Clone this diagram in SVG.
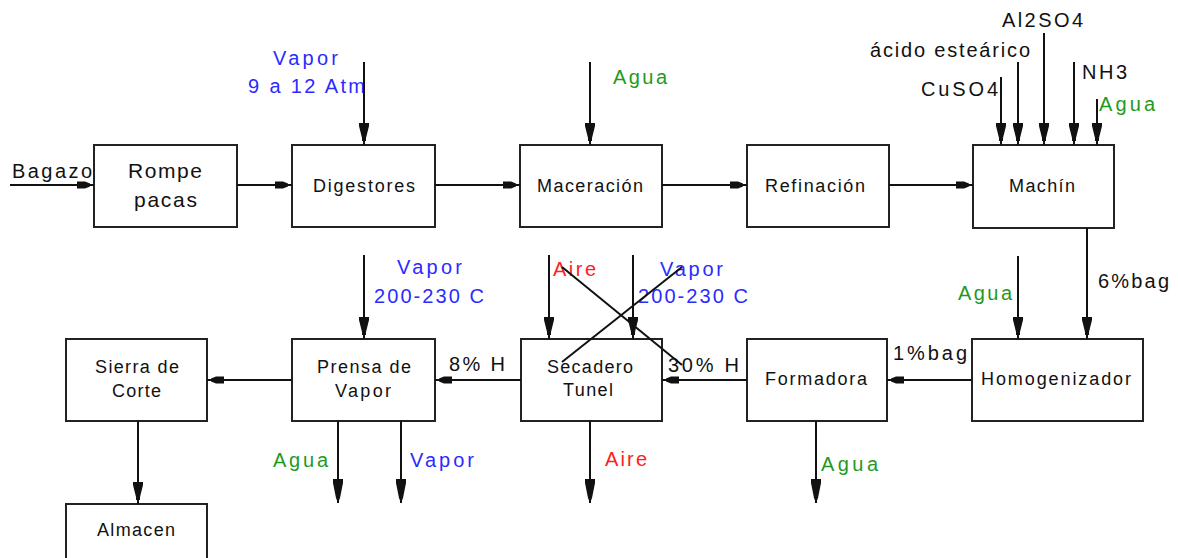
<svg xmlns="http://www.w3.org/2000/svg" width="1178" height="558" viewBox="0 0 1178 558">
<style>
.box{fill:#fff;stroke:#222;stroke-width:2}
.ln{stroke:#111;stroke-width:2;fill:none}
.h{marker-end:url(#mh)}
.v{marker-end:url(#mv)}
.vo{marker-end:url(#mvo)}
text{font-family:"Liberation Sans",Arial,sans-serif}
.n{font-size:18px;fill:#111}
.nb{font-size:21px;fill:#111}
.l{font-size:20px;fill:#111}
.bl{fill:#2b2bff}
.gr{fill:#1f9a1f}
.rd{fill:#ff2020}
</style>
<defs>
<marker id="mh" markerUnits="userSpaceOnUse" markerWidth="30" markerHeight="20" refX="0" refY="0" orient="auto" overflow="visible">
<path d="M-17,-3.5 L-9,-3.5 L-4,-1.5 L-4,1.5 L-9,3.5 L-17,3.5 Z" fill="#111"/>
</marker>
<marker id="mv" markerUnits="userSpaceOnUse" markerWidth="30" markerHeight="20" refX="0" refY="0" orient="auto" overflow="visible">
<path d="M-22,-5 L-19,-5 L-7,-2 L-4,-2 L-4,2 L-7,2 L-19,5 L-22,5 Z" fill="#111"/>
</marker>
<marker id="mvo" markerUnits="userSpaceOnUse" markerWidth="30" markerHeight="20" refX="0" refY="0" orient="auto" overflow="visible">
<path d="M-24,-5 L-20,-5 L-5,-2 L0,0 L-5,2 L-20,5 L-24,5 Z" fill="#111"/>
</marker>
</defs>
<rect width="1178" height="558" fill="#fff"/>

<g id="rompe-pacas"><rect class="box" x="94" y="145" width="143" height="82"/>
<text class="nb" x="128" y="178" textLength="74">Rompe</text>
<text class="nb" x="134" y="207" textLength="63">pacas</text></g>
<g id="digestores"><rect class="box" x="292" y="145" width="143" height="82"/>
<text class="n" x="313" y="192" textLength="102">Digestores</text></g>
<g id="maceracion"><rect class="box" x="520" y="145" width="142" height="82"/>
<text class="n" x="537" y="192" textLength="106">Maceración</text></g>
<g id="refinacion"><rect class="box" x="747" y="145" width="142" height="82"/>
<text class="n" x="765" y="192" textLength="100">Refinación</text></g>
<g id="machin"><rect class="box" x="973" y="145" width="141" height="83"/>
<text class="n" x="1009" y="192" textLength="66">Machín</text></g>

<g id="sierra"><rect class="box" x="66" y="339" width="141" height="82"/>
<text class="n" x="95" y="373" textLength="84">Sierra de</text>
<text class="n" x="112" y="397" textLength="49">Corte</text></g>
<g id="prensa"><rect class="box" x="292" y="339" width="143" height="82"/>
<text class="n" x="317" y="373" textLength="94">Prensa de</text>
<text class="n" x="335" y="397" textLength="56">Vapor</text></g>
<g id="secadero"><rect class="box" x="521" y="339" width="141" height="82"/>
<text class="n" x="547" y="373" textLength="86">Secadero</text>
<text class="n" x="563" y="396" textLength="50">Tunel</text></g>
<g id="formadora"><rect class="box" x="747" y="339" width="140" height="82"/>
<text class="n" x="765" y="385" textLength="102">Formadora</text></g>
<g id="homogenizador"><rect class="box" x="972" y="339" width="171" height="82"/>
<text class="n" x="981" y="385" textLength="150">Homogenizador</text></g>
<g id="almacen"><rect class="box" x="66" y="504" width="141" height="80"/>
<text class="n" x="97" y="536" textLength="78">Almacen</text></g>

<g id="labels">
<text class="l" x="12" y="178" textLength="80">Bagazo</text>
<text class="l bl" x="273" y="65" textLength="65">Vapor</text>
<text class="l bl" x="248" y="93" textLength="117">9 a 12 Atm</text>
<text class="l gr" x="613" y="84" textLength="54">Agua</text>
<text class="l" x="1002" y="27" textLength="81">Al2SO4</text>
<text class="l" x="870" y="57" textLength="160">ácido esteárico</text>
<text class="l" x="921" y="96" textLength="77">CuSO4</text>
<text class="l" x="1082" y="79" textLength="45">NH3</text>
<text class="l gr" x="1099" y="111" textLength="56">Agua</text>
<text class="l bl" x="397" y="274" textLength="65">Vapor</text>
<text class="l bl" x="374" y="303" textLength="110">200-230 C</text>
<text class="l rd" x="553" y="276" textLength="43">Aire</text>
<text class="l bl" x="660" y="276" textLength="63">Vapor</text>
<text class="l bl" x="638" y="303" textLength="110">200-230 C</text>
<text class="l" x="449" y="371" textLength="56">8% H</text>
<text class="l" x="668" y="372" textLength="71">30% H</text>
<text class="l" x="893" y="360" textLength="74">1%bag</text>
<text class="l" x="1098" y="288" textLength="71">6%bag</text>
<text class="l gr" x="958" y="300" textLength="54">Agua</text>
<text class="l gr" x="821" y="471" textLength="57">Agua</text>
<text class="l rd" x="605" y="466" textLength="42">Aire</text>
<text class="l gr" x="273" y="467" textLength="55">Agua</text>
<text class="l bl" x="410" y="467" textLength="64">Vapor</text>
</g>

<g id="connectors">
<line class="ln h" x1="10" y1="185" x2="94" y2="185"/>
<line class="ln h" x1="237" y1="185" x2="292" y2="185"/>
<line class="ln h" x1="435" y1="185" x2="520" y2="185"/>
<line class="ln h" x1="662" y1="185" x2="747" y2="185"/>
<line class="ln h" x1="889" y1="185" x2="973" y2="185"/>
<line class="ln h" x1="972" y1="380" x2="887" y2="380"/>
<line class="ln h" x1="747" y1="380" x2="662" y2="380"/>
<line class="ln h" x1="521" y1="380" x2="435" y2="380"/>
<line class="ln h" x1="292" y1="380" x2="207" y2="380"/>
<line class="ln v" x1="364" y1="62" x2="364" y2="145"/>
<line class="ln v" x1="590" y1="62" x2="590" y2="145"/>
<line class="ln v" x1="1001" y1="77" x2="1001" y2="145"/>
<line class="ln v" x1="1018" y1="62" x2="1018" y2="145"/>
<line class="ln v" x1="1044" y1="33" x2="1044" y2="145"/>
<line class="ln v" x1="1074" y1="62" x2="1074" y2="145"/>
<line class="ln v" x1="1097" y1="99" x2="1097" y2="145"/>
<line class="ln v" x1="1087" y1="228" x2="1087" y2="339"/>
<line class="ln v" x1="1018" y1="256" x2="1018" y2="339"/>
<line class="ln v" x1="364" y1="255" x2="364" y2="339"/>
<line class="ln v" x1="549" y1="255" x2="549" y2="339"/>
<line class="ln v" x1="633" y1="255" x2="633" y2="339"/>
<line class="ln v" x1="138" y1="421" x2="138" y2="504"/>
<line class="ln vo" x1="338" y1="421" x2="338" y2="503"/>
<line class="ln vo" x1="401" y1="421" x2="401" y2="503"/>
<line class="ln vo" x1="590" y1="421" x2="590" y2="503"/>
<line class="ln vo" x1="816" y1="421" x2="816" y2="503"/>
<line class="ln" x1="562" y1="267" x2="682" y2="365"/>
<line class="ln" x1="682" y1="267" x2="562" y2="362"/>
</g>
</svg>
